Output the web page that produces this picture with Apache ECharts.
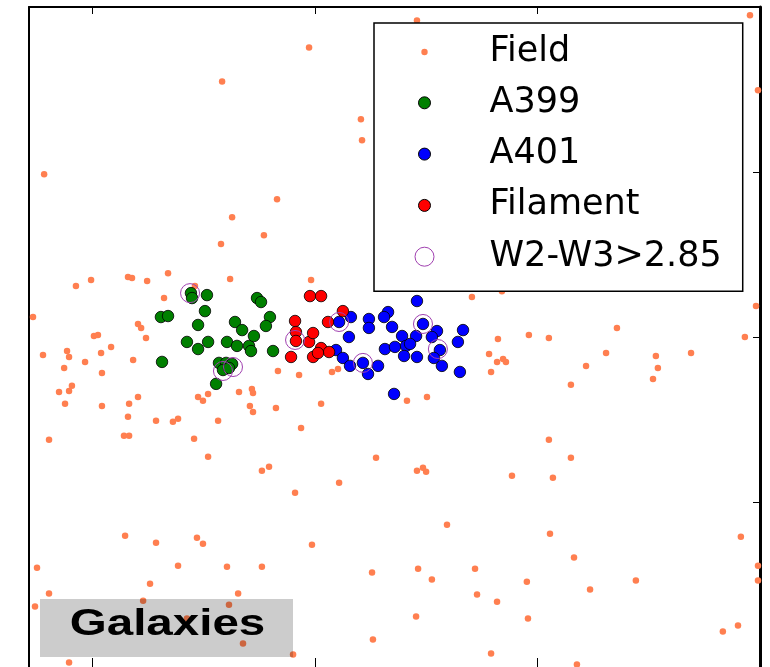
<!DOCTYPE html>
<html><head><meta charset="utf-8">
<script src="https://cdn.jsdelivr.net/npm/echarts@6/dist/echarts.min.js"></script>
<style>html,body{margin:0;padding:0;background:#fff}#c{width:770px;height:667px}</style>
</head><body><div id="c"></div>
<script>
// axis ranges / ticks (no tick labels in the original)
const xRange = [0.714, 4.0];
const yRange = [0, 4];
const xTicks = [1, 2, 3];
const yTicks = [1, 2, 3];

const fieldPoints = [
[3.955,3.950],[2.458,3.918],[1.973,3.755],[1.582,3.549],[3.991,3.495],[2.206,3.319],[2.211,3.192],
[0.782,2.986],[1.829,2.835],[1.627,2.726],[1.770,2.617],[1.577,2.563],[1.339,2.387],[1.159,2.363],
[1.177,2.357],[0.925,2.309],[0.993,2.345],[1.245,2.339],[1.618,2.351],[1.982,2.345],[1.321,2.236],
[1.460,2.309],[2.840,2.278],[3.406,2.297],[2.705,2.242],[3.982,2.188],[3.357,2.055],[2.961,2.012],
[3.051,1.994],[2.822,1.988],[3.932,2.000],[2.782,1.897],[3.308,1.903],[3.690,1.903],[3.532,1.885],
[2.818,1.849],[2.845,1.867],[2.858,1.849],[2.791,1.788],[3.218,1.825],[3.541,1.812],[3.519,1.746],
[3.150,1.710],[0.732,2.121],[1.204,2.079],[1.218,2.055],[1.006,2.006],[1.024,2.012],[1.240,1.994],
[0.777,1.891],[0.885,1.915],[0.894,1.879],[0.966,1.849],[1.038,1.903],[1.083,1.940],[0.872,1.812],
[1.042,1.782],[1.182,1.861],[0.849,1.667],[0.894,1.673],[0.907,1.704],[0.876,1.595],[1.042,1.582],
[1.164,1.595],[1.204,1.637],[1.159,1.516],[1.285,1.492],[1.361,1.486],[1.384,1.504],[1.141,1.401],
[1.164,1.401],[0.804,1.377],[1.456,1.383],[1.519,1.274],[1.474,1.637],[1.496,1.613],[1.519,1.655],
[1.146,0.796],[1.285,0.753],[1.469,0.784],[1.496,0.747],[0.750,0.602],[1.384,0.614],[1.658,1.667],
[1.716,1.685],[1.721,1.661],[1.707,1.582],[1.721,1.546],[1.824,1.570],[2.027,1.595],[1.564,1.492],
[1.937,1.449],[1.761,1.189],[1.793,1.213],[1.910,1.056],[2.108,1.116],[2.274,1.268],[2.413,1.613],
[2.503,1.637],[1.986,0.741],[1.604,0.608],[1.761,0.608],[1.833,1.794],[1.928,1.770],[2.076,1.788],
[2.103,1.806],[2.458,1.189],[2.485,1.207],[2.499,1.183],[3.051,1.377],[3.150,1.268],[2.885,1.159],
[3.069,1.147],[2.593,0.862],[3.056,0.808],[3.914,0.790],[2.463,0.596],[2.719,0.596],[3.164,0.663],
[2.525,0.530],[2.952,0.517],[3.442,0.524],[3.991,0.614],[3.991,0.524],[2.728,0.439],[2.818,0.396],
[3.236,0.469],[2.957,0.294],[2.454,0.306],[3.833,0.215],[3.901,0.251],[2.791,0.082],[3.177,0.015],
[2.256,0.572],[1.258,0.505],[0.804,0.445],[1.654,0.445],[0.741,0.366],[1.227,0.402],[1.613,0.378],
[1.424,0.294],[1.676,0.142],[1.901,0.076],[0.894,0.027],[2.260,0.166]
];

const a399Points = [
[1.442,2.266],[1.447,2.236],[1.514,2.254],[1.505,2.157],[1.474,2.073],[1.307,2.121],[1.339,2.127],
[1.424,1.970],[1.474,1.927],[1.519,1.970],[1.312,1.849],[1.640,2.091],[1.672,2.042],[1.604,1.970],
[1.649,1.946],[1.703,1.946],[1.712,1.915],[1.725,2.006],[1.739,2.236],[1.757,2.212],[1.797,2.121],
[1.779,2.067],[1.811,1.915],[1.568,1.843],[1.600,1.843],[1.627,1.837],[1.586,1.800],[1.613,1.812],
[1.555,1.716]
];

const a401Points = [
[2.458,2.218],[2.108,2.091],[2.161,2.121],[2.242,2.109],[2.242,2.055],[2.328,2.151],[2.310,2.121],
[2.346,2.061],[2.152,2.000],[2.485,2.079],[2.548,2.036],[2.525,2.000],[2.665,2.042],[2.642,1.970],
[2.391,2.006],[2.454,2.006],[2.314,1.927],[2.359,1.940],[2.409,1.946],[2.400,1.885],[2.458,1.879],
[2.561,1.921],[2.534,1.873],[2.570,1.825],[2.651,1.788],[2.094,1.921],[2.125,1.873],[2.157,1.825],
[2.215,1.843],[2.238,1.776],[2.283,1.825],[2.355,1.655],[2.427,1.958]
];

const filamentPoints = [
[1.977,2.248],[2.027,2.248],[2.125,2.157],[1.910,2.097],[1.914,2.030],[1.914,1.976],[1.973,1.970],
[1.991,2.024],[2.058,2.091],[1.892,1.879],[2.027,1.933],[2.063,1.909],[1.991,1.879],[2.013,1.903]
];

const w2w3Points = [
[1.438,2.266],[1.586,1.794],[1.631,1.818],[1.910,1.982],[2.108,2.091],[2.215,1.843],[2.485,2.079],[2.552,1.927]
];

const seriesNames = ['Field', 'A399', 'A401', 'Filament', 'W2-W3>2.85'];

// legend icons: a circle inside a fixed box (box padded with move-to points)
const IW = 109, IH = 40, ICX = 49, ICY = 20;
function legendIcon(r) {
  return 'path://M0,0 M' + IW + ',' + IH + ' M' + (ICX - r) + ',' + ICY +
    ' A' + r + ',' + r + ' 0 1,1 ' + (ICX + r) + ',' + ICY +
    ' A' + r + ',' + r + ' 0 1,1 ' + (ICX - r) + ',' + ICY + ' Z';
}

const chart = echarts.init(document.getElementById('c'), null, {renderer: 'canvas'});

function xAxisCfg(pos, showLine, tickLen) {
  return {
    type: 'value', position: pos, min: xRange[0], max: xRange[1],
    axisLine: {show: showLine, onZero: false, lineStyle: {color: '#000', width: 2}},
    axisTick: {show: true, inside: true, length: tickLen, customValues: xTicks, lineStyle: {color: '#000', width: 1}},
    axisLabel: {show: false}, splitLine: {show: false}
  };
}
function yAxisCfg(pos, ticks, w) {
  return {
    type: 'value', position: pos, min: yRange[0], max: yRange[1], interval: 1,
    axisLine: {show: true, onZero: false, lineStyle: {color: '#000', width: w}},
    axisTick: {show: ticks, inside: true, length: 7, customValues: yTicks, lineStyle: {color: '#000', width: 1}},
    axisLabel: {show: false}, splitLine: {show: false}
  };
}

const clusterStyle = c => ({color: c, borderColor: '#000', borderWidth: 0.8, opacity: 1});

chart.setOption({
  animation: false,
  backgroundColor: '#fff',
  grid: {left: 29, top: 7, width: 731, height: 661, containLabel: false},
  xAxis: [xAxisCfg('bottom', false, 9), xAxisCfg('top', true, 7)],
  yAxis: [yAxisCfg('left', false, 2), yAxisCfg('right', true, 3)],
  legend: {
    orient: 'vertical', left: 374, top: 23,
    padding: [9, 21, 14, 1],
    backgroundColor: '#fff', borderColor: '#000', borderWidth: 1.5, borderRadius: 0,
    itemWidth: IW, itemHeight: IH, itemGap: 10.3,
    selectedMode: false,
    textStyle: {fontFamily: 'DejaVu Sans', fontSize: 35, color: '#000'},
    itemStyle: {borderWidth: 1},
    data: [
      {name: seriesNames[0], icon: legendIcon(3.2), itemStyle: {borderWidth: 0}},
      {name: seriesNames[1], icon: legendIcon(6)},
      {name: seriesNames[2], icon: legendIcon(6)},
      {name: seriesNames[3], icon: legendIcon(6)},
      {name: seriesNames[4], icon: legendIcon(9.5)}
    ]
  },
  series: [
    {name: seriesNames[0], type: 'scatter', data: fieldPoints, symbolSize: 6.5,
     itemStyle: {color: '#ff7f50', borderWidth: 0, opacity: 1}, emphasis: {disabled: true}},
    {name: seriesNames[1], type: 'scatter', data: a399Points, symbolSize: 11.5,
     itemStyle: clusterStyle('#008000'), emphasis: {disabled: true}},
    {name: seriesNames[2], type: 'scatter', data: a401Points, symbolSize: 11.5,
     itemStyle: clusterStyle('#0000ff'), emphasis: {disabled: true}},
    {name: seriesNames[3], type: 'scatter', data: filamentPoints, symbolSize: 11.5,
     itemStyle: clusterStyle('#ff0000'), emphasis: {disabled: true}},
    {name: seriesNames[4], type: 'scatter', data: w2w3Points, symbolSize: 19,
     itemStyle: {color: 'rgba(0,0,0,0)', borderColor: '#a040b0', borderWidth: 1, opacity: 1}, emphasis: {disabled: true}}
  ],
  graphic: [
    {type: 'rect', z: 100, shape: {x: 40, y: 599, width: 253, height: 58},
     style: {fill: '#cccccc', blend: 'multiply'}, silent: true},
    {type: 'text', z: 101, x: 167.5, y: 625, scaleX: 1.32, scaleY: 1,
     style: {text: 'Galaxies', fontFamily: 'Liberation Sans', fontWeight: 'bold', fontSize: 36,
             fill: '#000', align: 'center', verticalAlign: 'middle'}, silent: true}
  ]
});
</script>
</body></html>
